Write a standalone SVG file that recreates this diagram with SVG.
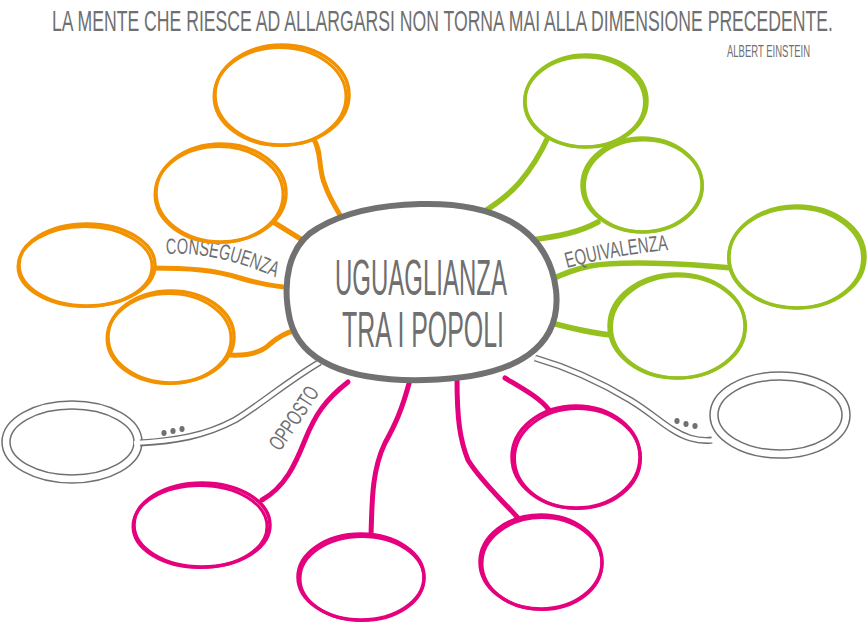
<svg xmlns="http://www.w3.org/2000/svg" width="868" height="622" viewBox="0 0 868 622">
<style>
  .txt { font-family: "Liberation Sans", "DejaVu Sans", sans-serif; fill: #6f6f6f; }
  .o { fill: #fff; stroke: #f39200; stroke-width: 3.5; }
  .o2 { fill: none; stroke: #f39200; stroke-width: 3; }
  .g { fill: #fff; stroke: #95c11f; stroke-width: 3.5; }
  .g2 { fill: none; stroke: #95c11f; stroke-width: 3; }
  .m { fill: #fff; stroke: #e5007d; stroke-width: 3.5; }
  .m2 { fill: none; stroke: #e5007d; stroke-width: 3; }
  .co { fill: none; stroke: #f39200; stroke-width: 5; stroke-linecap: round; }
  .cg { fill: none; stroke: #95c11f; stroke-width: 5.5; stroke-linecap: round; }
  .cm { fill: none; stroke: #e5007d; stroke-width: 5; stroke-linecap: round; }
  .dOut { fill: none; stroke: #707070; stroke-width: 7; }
  .dIn { fill: none; stroke: #fff; stroke-width: 4.2; }
  .ringOut { fill: #fff; stroke: #707070; stroke-width: 9.5; }
  .ringIn { fill: none; stroke: #fff; stroke-width: 6.5; }
  .dot { fill: #707070; }
</style>
<defs>
  <path id="pCons" d="M 166 254 C 200 252, 240 261, 281 280"/>
  <path id="pEqui" d="M 567 268 C 600 259, 635 253, 670 250"/>
  <path id="pOpp" d="M 280 452 C 293 433, 306 414, 320 392"/>
</defs>

<rect width="868" height="622" fill="#fff"/>

<text class="txt" transform="translate(52 31) scale(1 1.38)" x="0" y="0" font-size="21.5" textLength="781" lengthAdjust="spacingAndGlyphs">LA MENTE CHE RIESCE AD ALLARGARSI NON TORNA MAI ALLA DIMENSIONE PRECEDENTE.</text>
<text class="txt" transform="translate(727 57) scale(1 1.5)" x="0" y="0" font-size="11.5" textLength="83" lengthAdjust="spacingAndGlyphs">ALBERT EINSTEIN</text>

<!-- gray double-line nodes (drawn first so connector mouths open into rings) -->
<g id="node-gray-left">
  <ellipse class="ringOut" cx="72" cy="442" rx="66" ry="37"/>
  <ellipse class="ringIn" cx="72" cy="442" rx="66" ry="37"/>
</g>
<g id="node-gray-right">
  <ellipse class="ringOut" cx="780" cy="415" rx="66" ry="39"/>
  <ellipse class="ringIn" cx="780" cy="415" rx="66" ry="39"/>
</g>

<g id="connectors">
  <!-- orange -->
  <path class="co" d="M 313 138 C 322 150, 318 170, 325 185 C 330 200, 338 212, 348 228"/>
  <path class="co" d="M 270 220 L 312 246"/>
  <path class="co" d="M 150 268 C 190 268, 215 270, 240 278 C 260 284, 275 287, 296 288"/>
  <path class="co" d="M 230 355 C 250 356, 262 352, 270 344 C 278 337, 285 333, 296 330"/>
  <!-- green -->
  <path class="cg" d="M 548 137 C 540 155, 530 170, 520 182 C 508 196, 495 205, 480 214"/>
  <path class="cg" d="M 598 222 C 580 232, 560 236, 532 240"/>
  <path class="cg" d="M 732 268 C 680 263, 620 261, 590 266 C 575 269, 565 273, 550 280"/>
  <path class="cg" d="M 612 335 C 590 333, 570 328, 548 322"/>
  <!-- magenta -->
  <path class="cm" d="M 262 500 C 285 487, 295 465, 305 440 C 315 415, 325 400, 348 382"/>
  <path class="cm" d="M 371 536 C 372 500, 372 470, 385 443 C 395 425, 402 410, 410 380"/>
  <path class="cm" d="M 518 518 C 500 498, 480 480, 468 460 C 460 440, 457 420, 457 378"/>
  <path class="cm" d="M 549 410 C 540 398, 525 390, 505 378"/>
  <!-- gray double lines -->
  <path class="dOut" d="M 140 443 C 175 441, 205 436, 235 420 C 260 405, 282 385, 320 362"/>
  <path class="dIn" d="M 134 443 C 175 441, 205 436, 235 420 C 260 405, 282 385, 320 362"/>
  <path class="dOut" d="M 535 358 C 570 368, 605 385, 630 400 C 655 415, 670 432, 690 438 C 700 441, 706 441, 712 440"/>
  <path class="dIn" d="M 535 358 C 570 368, 605 385, 630 400 C 655 415, 670 432, 690 438 C 700 441, 708 441, 718 440"/>
  <ellipse class="dot" cx="164" cy="433" rx="2.6" ry="3"/>
  <ellipse class="dot" cx="173" cy="431" rx="2.6" ry="3"/>
  <ellipse class="dot" cx="182" cy="429" rx="2.6" ry="3"/>
  <ellipse class="dot" cx="677" cy="421" rx="2.6" ry="3"/>
  <ellipse class="dot" cx="686" cy="424" rx="2.6" ry="3"/>
  <ellipse class="dot" cx="695" cy="426" rx="2.6" ry="3"/>
</g>

<!-- labels -->
<text class="txt" font-size="22"><textPath href="#pCons" textLength="113" lengthAdjust="spacingAndGlyphs">CONSEGUENZA</textPath></text>
<text class="txt" font-size="22"><textPath href="#pEqui" textLength="103" lengthAdjust="spacingAndGlyphs">EQUIVALENZA</textPath></text>
<text class="txt" font-size="22"><textPath href="#pOpp" textLength="72" lengthAdjust="spacingAndGlyphs">OPPOSTO</textPath></text>

<!-- orange nodes -->
<g id="node-o1"><ellipse class="o" cx="282" cy="95" rx="67" ry="50"/><ellipse class="o2" cx="280" cy="96.5" rx="66" ry="49"/></g>
<g id="node-o2"><ellipse class="o" cx="221" cy="193" rx="65" ry="49"/><ellipse class="o2" cx="219" cy="194.5" rx="64" ry="48"/></g>
<g id="node-o3"><ellipse class="o" cx="87" cy="265" rx="68" ry="41"/><ellipse class="o2" cx="85" cy="266.5" rx="67" ry="40"/></g>
<g id="node-o4"><ellipse class="o" cx="171" cy="337" rx="63" ry="46"/><ellipse class="o2" cx="169" cy="338.5" rx="62" ry="45"/></g>

<!-- green nodes -->
<g id="node-g1"><ellipse class="g" cx="586" cy="101" rx="61" ry="46"/><ellipse class="g2" cx="584.5" cy="102" rx="60" ry="45"/></g>
<g id="node-g2"><ellipse class="g" cx="642" cy="185" rx="60" ry="47"/><ellipse class="g2" cx="643.5" cy="186" rx="59" ry="46"/></g>
<g id="node-g3"><ellipse class="g" cx="797" cy="257" rx="68" ry="51"/><ellipse class="g2" cx="795.5" cy="258" rx="67" ry="50"/></g>
<g id="node-g4"><ellipse class="g" cx="677" cy="326" rx="68" ry="52"/><ellipse class="g2" cx="678.5" cy="327" rx="67" ry="51"/></g>

<!-- magenta nodes -->
<g id="node-m1"><ellipse class="m" cx="202" cy="525" rx="68" ry="42"/><ellipse class="m2" cx="200" cy="526.5" rx="67" ry="41"/></g>
<g id="node-m2"><ellipse class="m" cx="361" cy="577" rx="63" ry="43"/><ellipse class="m2" cx="362" cy="578.5" rx="62" ry="42"/></g>
<g id="node-m3"><ellipse class="m" cx="541" cy="562" rx="61" ry="47"/><ellipse class="m2" cx="542" cy="563.5" rx="60" ry="46"/></g>
<g id="node-m4"><ellipse class="m" cx="576" cy="457" rx="64" ry="51"/><ellipse class="m2" cx="577.5" cy="458.5" rx="63" ry="50"/></g>

<!-- central node -->
<g id="node-center">
  <path d="M 420 204 C 490 202, 548 225, 556 290 C 562 345, 520 378, 425 380 C 345 382, 300 360, 290 320 C 282 285, 287 245, 318 228 C 345 212, 380 205, 420 204 Z" fill="#fff" stroke="#717171" stroke-width="6"/>
  <text class="txt" x="421" y="295" font-size="50" text-anchor="middle" textLength="172" lengthAdjust="spacingAndGlyphs">UGUAGLIANZA</text>
  <text class="txt" x="423" y="347" font-size="50" text-anchor="middle" textLength="162" lengthAdjust="spacingAndGlyphs">TRA I POPOLI</text>
</g>
</svg>
